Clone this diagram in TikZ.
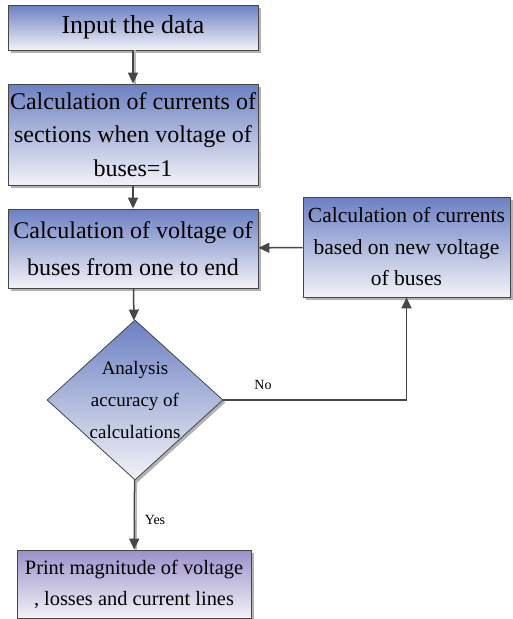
\documentclass[tikz,border=0pt]{standalone}
\usepackage{fontspec}
\setmainfont{Liberation Serif}
\usetikzlibrary{shapes.geometric,shadows,arrows.meta}

\definecolor{boxtop}{RGB}{108,128,194}
\definecolor{boxbot}{RGB}{242,242,247}
\definecolor{printtop}{RGB}{156,144,202}
\definecolor{edge}{RGB}{70,70,70}

\tikzset{
  stepbox/.style={draw=edge, line width=0.8pt, top color=boxtop, bottom color=boxbot,
    align=center, inner sep=1pt,
    drop shadow={shadow xshift=2.5pt, shadow yshift=-2.5pt, fill=gray!60, opacity=1}},
  flow/.style={draw=edge, line width=1.5pt, -{Triangle[length=11pt,width=10pt]}},
  shadowflow/.style={flow, preaction={draw=gray!55, line width=1.8pt, -, transform canvas={xshift=1.8pt}}},
}

\begin{document}
\begin{tikzpicture}[x=1pt, y=-1pt]
\useasboundingbox (0,0) rectangle (513,619);

\node [stepbox, minimum width=250pt, minimum height=45pt, font=\fontsize{26}{30}\selectfont] (input) at (133,27.5) {Input the data};

\node [stepbox, minimum width=250pt, minimum height=101pt, font=\fontsize{24}{33.5}\selectfont] (sections) at (133,134.5) {Calculation of currents of\\ sections when voltage of\\ buses=1};

\node [stepbox, minimum width=250pt, minimum height=79pt, font=\fontsize{24}{37}\selectfont] (voltage) at (133,248.5) {Calculation of voltage of\\ buses from one to end};

\node [stepbox, minimum width=207pt, minimum height=100pt, font=\fontsize{21.5}{31.5}\selectfont] (currents) at (406.5,247) {Calculation of currents\\ based on new voltage\\ of buses};

\node [stepbox, diamond, aspect=1.1, minimum width=176pt, minimum height=160pt, inner sep=-6pt, font=\fontsize{19}{32}\selectfont] (accuracy) at (135,400) {Analysis\\ accuracy of\\ calculations};

\node [stepbox, top color=printtop, minimum width=234pt, minimum height=68pt, font=\fontsize{20.4}{31}\selectfont] (print) at (134,584) {Print magnitude of voltage\\ , losses and current lines};

\draw [shadowflow] (input) -- (sections);
\draw [flow] (sections) -- (voltage);
\draw [flow] (currents) -- (voltage);
\draw [flow] (voltage) -- (accuracy);
\draw [flow] (accuracy.east) -| (currents.south);
\draw [shadowflow] (accuracy) -- (print);

\node [font=\fontsize{14}{16}\selectfont] (no) at (263,385) {No};
\node [font=\fontsize{14}{16}\selectfont] (yes) at (155,520) {Yes};
\end{tikzpicture}
\end{document}
